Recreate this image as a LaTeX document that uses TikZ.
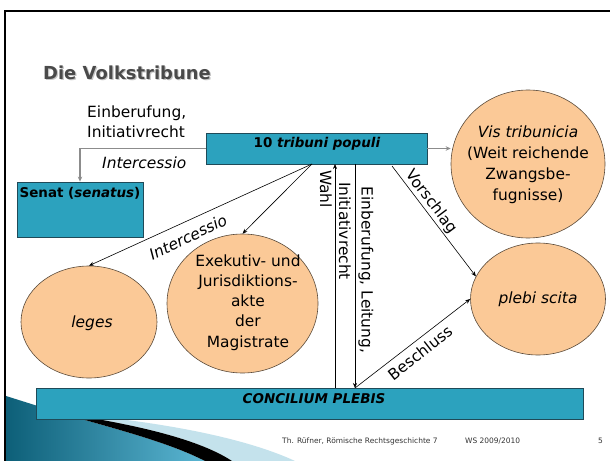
\documentclass[tikz,border=0pt]{standalone}
\usepackage{fontspec}
\setmainfont{DejaVu Sans}
\usetikzlibrary{shapes.geometric,arrows.meta}
\definecolor{boxfill}{HTML}{2CA2BE}
\definecolor{boxline}{HTML}{1F4A58}
\definecolor{peach}{HTML}{FBC997}
\definecolor{ringline}{HTML}{5A4A3A}
\definecolor{connGray}{HTML}{8C8C8C}
\definecolor{titleGray}{HTML}{4A4A4A}
\definecolor{tealDark}{HTML}{0D5F78}
\definecolor{tealLight}{HTML}{5BB6D3}
\definecolor{dither}{HTML}{C4E2EC}
\begin{document}
\begin{tikzpicture}[x=1bp,y=-1bp,
  lbl/.style={font=\fontsize{15.5}{20.5}\selectfont, inner sep=0pt},
  boldlbl/.style={font=\fontsize{13.5}{16}\selectfont\bfseries, inner sep=0pt},
  box/.style={draw=boxline, fill=boxfill, line width=0.8bp, inner sep=0pt},
  blob/.style={ellipse, draw=ringline, fill=peach, line width=0.6bp, inner sep=0pt},
  arr/.style={line width=0.6bp, -{Stealth[length=5bp,width=4bp]}},
  garr/.style={draw=connGray, line width=1.6bp, -{Stealth[length=5bp,width=4.5bp]}},
  foottext/.style={font=\fontsize{7.5}{9}\selectfont, inner sep=0pt, text=black!80, anchor=west}
]
\useasboundingbox (0,0) rectangle (610,461);
\fill[white] (0,0) rectangle (610,461);

% bottom-left decoration
\shade[left color=tealDark, right color=tealLight]
  (6,396) -- (60,413) .. controls (120,430) and (170,443) .. (205,461) -- (6,461) -- cycle;
\fill[dither]
  (60,413) .. controls (170,422) and (250,440) .. (295,461) -- (232,461)
  .. controls (200,440) and (140,425) .. (60,413) -- cycle;
\fill[black]
  (60,413) .. controls (140,425) and (200,440) .. (232,461) -- (205,461)
  .. controls (170,443) and (120,430) .. (60,413) -- cycle;

% frame
\draw[line width=2.6bp] (5,461) -- (5,11) -- (610,11);

% title
\node[font=\fontsize{18}{22}\selectfont\bfseries, text=black!22, anchor=west, inner sep=0pt] (titleshadow) at (44.2,74.2) {Die Volkstribune};
\node[font=\fontsize{18}{22}\selectfont\bfseries, text=titleGray, anchor=west, inner sep=0pt] (title) at (43,73) {Die Volkstribune};

% boxes
\node[box, minimum width=221bp, minimum height=31bp] (tri) at (316.5,148.5) {};
\node[boldlbl] (tritext) at (317,144) {10 \textit{tribuni populi}};
\node[box, minimum width=126bp, minimum height=55bp] (senat) at (80,209.5) {};
\node[boldlbl] (senattext) at (80,193) {Senat (\textit{senatus})};
\node[box, minimum width=547bp, minimum height=31bp] (conc) at (309.5,403.5) {};
\node[boldlbl] (conctext) at (314,399) {\textit{CONCILIUM PLEBIS}};

% ellipses
\node[blob, minimum width=154bp, minimum height=148bp] (vis) at (528,164) {};
\node[lbl, align=center, font=\fontsize{15.5}{21}\selectfont] (vistext) at (528,164.5) {\textit{Vis tribunicia}\\(Weit reichende\\Zwangsbe-\\fugnisse)};
\node[blob, minimum width=135bp, minimum height=112bp] (pleb) at (538,299) {};
\node[lbl] (plebtext) at (538,299) {\textit{plebi scita}};
\node[blob, minimum width=136bp, minimum height=112bp] (leges) at (89,322) {};
\node[lbl] (legestext) at (92,323) {\textit{leges}};
\node[blob, minimum width=151bp, minimum height=139bp] (exek) at (242.5,303.5) {};
\node[lbl, align=center, font=\fontsize{15.5}{20.3}\selectfont] (exektext) at (248,302.5) {Exekutiv- und\\Jurisdiktions-\\akte\\der\\Magistrate};

% connectors
\draw[garr] (tri.west) -| (senat.north);
\draw[garr] (tri.east) -- (tri.east -| vis.west);
\coordinate (tA) at (312,164);
\draw[arr] (tA) -- (leges.north);
\draw[arr] (tA) -- (exek.north);
\coordinate (cA) at (335,388);
\coordinate (tB) at (335,164);
\draw[arr] (cA) -- (tB);
\coordinate (tC) at (355,164);
\coordinate (cB) at (355,388);
\draw[arr] (tC) -- (cB);
\draw[arr] (cB) -- (pleb.west);
\coordinate (tD) at (392,166);
\draw[arr] (tD) -- (pleb.160);

% labels
\node[lbl, align=left, anchor=west, font=\fontsize{15.5}{20}\selectfont] (einb) at (87,122) {Einberufung,\\Initiativrecht};
\node[lbl, anchor=west] (interc1) at (102,163) {\textit{Intercessio}};
\node[lbl, rotate=25.7] (interc2) at (188,237) {\textit{Intercessio}};
\node[lbl, rotate=-90] (wahl) at (326,189) {Wahl};
\node[lbl, rotate=-90] (initv) at (345,231) {Initiativrecht};
\node[lbl, rotate=-90] (einl) at (366,270) {Einberufung, Leitung,};
\node[lbl, rotate=-53] (vorsch) at (431,202) {Vorschlag};
\node[lbl, rotate=38] (beschl) at (420,353) {Beschluss};

% footer
\node[foottext] (foot1) at (282,441) {Th. Rüfner, Römische Rechtsgeschichte 7};
\node[foottext] (foot2) at (465,441) {WS 2009/2010};
\node[foottext] (foot3) at (598,441) {5};
\end{tikzpicture}
\end{document}
